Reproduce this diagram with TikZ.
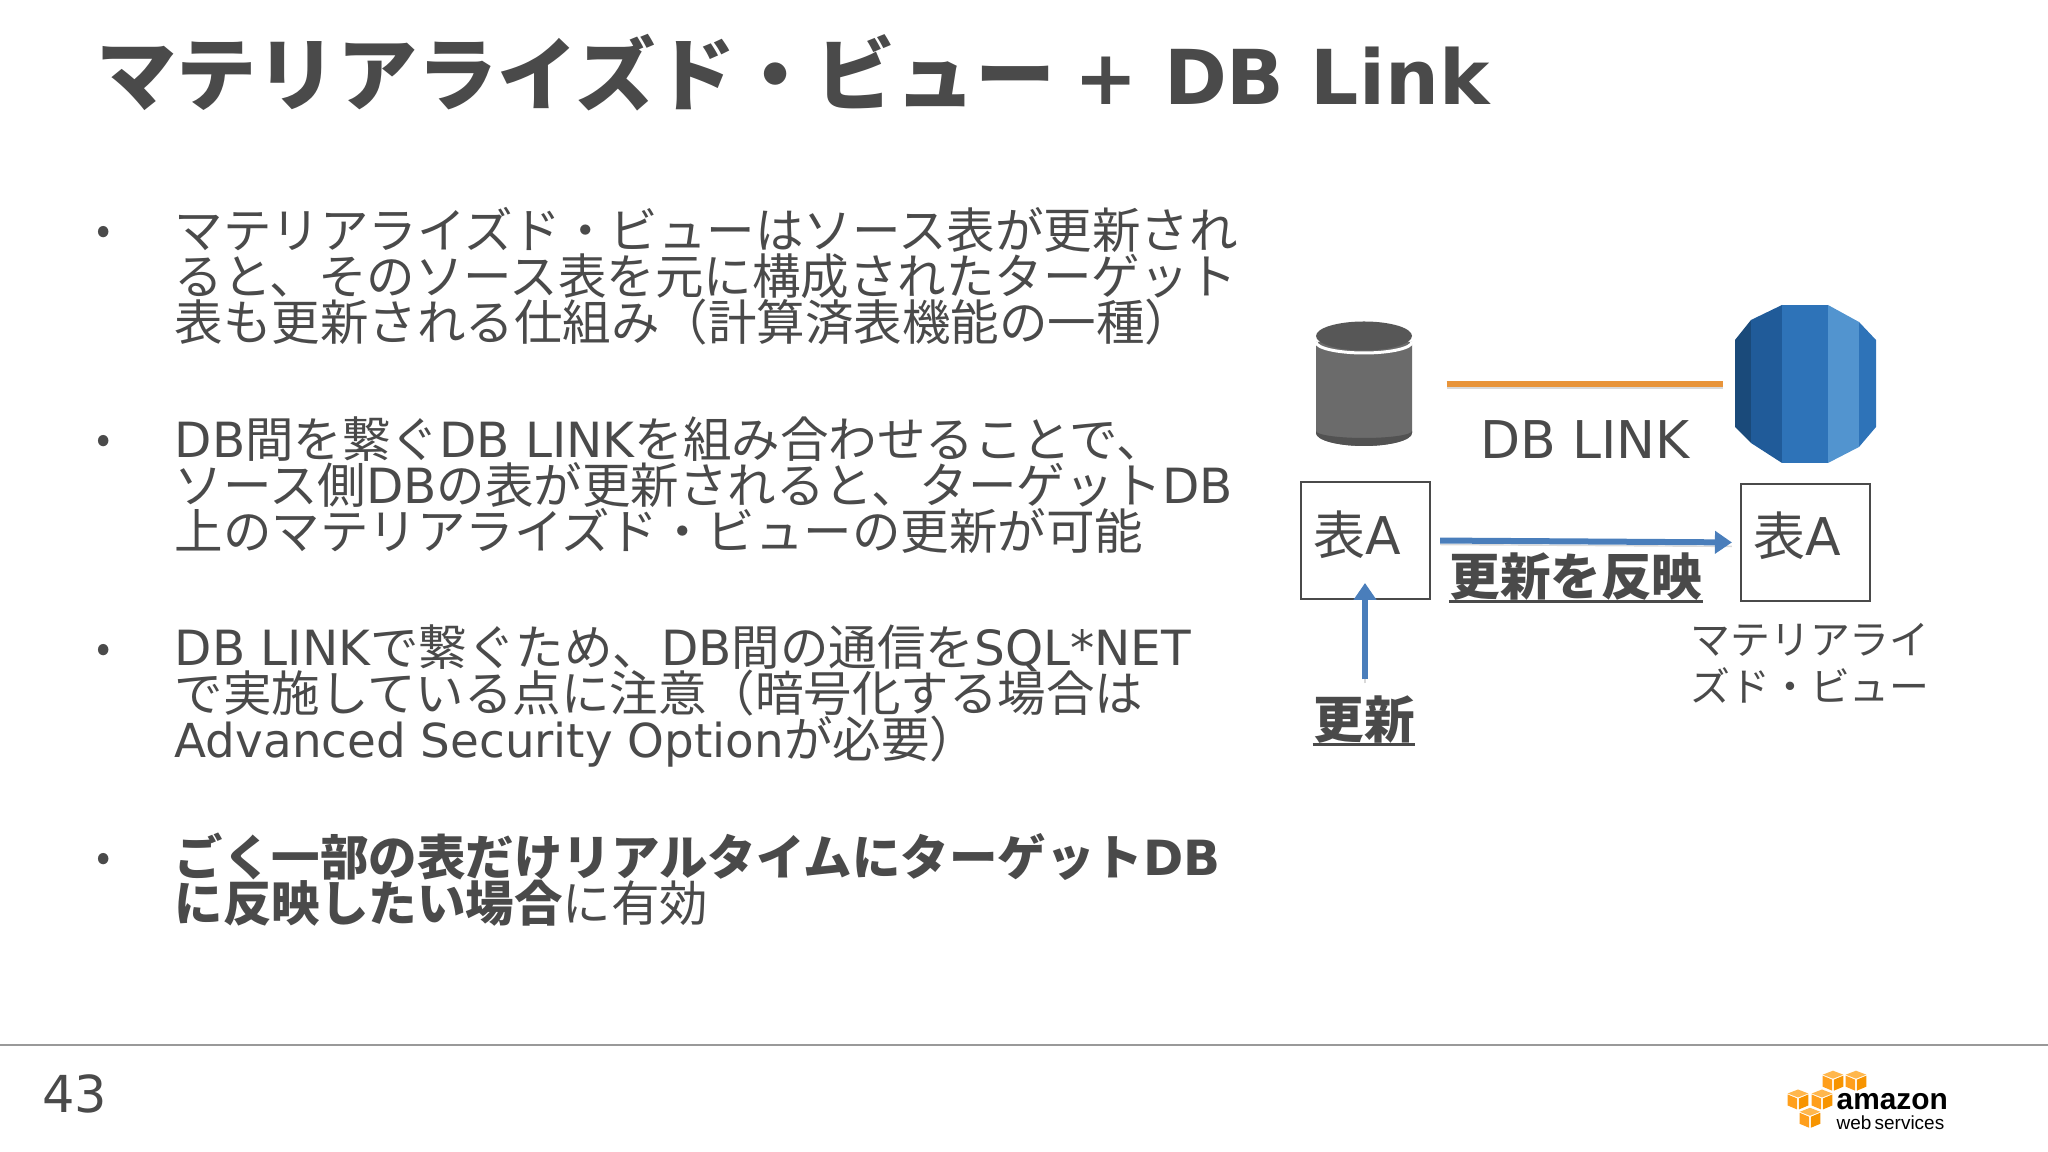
\documentclass[tikz,border=0pt]{standalone}
\usepackage{fontspec}
\usetikzlibrary{arrows.meta}
\setmainfont{Noto Sans CJK JP}
\newfontfamily\latfont{DejaVu Sans}
\newfontfamily\latnarrow{DejaVu Sans}[Scale=0.965]
\newfontfamily\logofont{Liberation Sans}
\newcommand{\ltn}[1]{{\latfont #1}}
\lineskiplimit=-100pt
\definecolor{slidetext}{HTML}{4A4A4A}
\definecolor{linkorange}{HTML}{E8943A}
\definecolor{flowblue}{HTML}{4A7EBB}
\definecolor{rdsdeep}{HTML}{1A4A7A}
\definecolor{rdsdark}{HTML}{205B99}
\definecolor{rdsmid}{HTML}{2E73B8}
\definecolor{rdslight}{HTML}{5294CF}
\definecolor{cubetop}{HTML}{FFB74D}
\definecolor{cubeleft}{HTML}{FF9F1C}
\definecolor{cuberight}{HTML}{F79400}
\tikzset{
    bodytext/.style={anchor=west, align=left, inner sep=0pt, text=slidetext, font=\fontsize{13.8}{13.1}\selectfont},
    dotmark/.style={inner sep=0pt, text=slidetext, font=\fontsize{12}{12}\selectfont},
    tablebox/.style={draw=slidetext, line width=0.6pt, minimum width=1.29cm, minimum height=1.17cm},
    tablename/.style={inner sep=0pt, text=slidetext, font=\fontsize{14.8}{14.8}\selectfont},
    boldnote/.style={inner sep=0pt, text=slidetext, font=\fontsize{14.4}{14.4}\selectfont\bfseries},
    noteline/.style={slidetext, line width=0.035cm},
    flowline/.style={flowblue, line width=0.06cm, -{Triangle[length=0.17cm,width=0.22cm]},
        preaction={draw=black!15, -, transform canvas={yshift=-0.04cm}}},
    linkline/.style={linkorange, line width=0.06cm,
        preaction={draw=black!15, transform canvas={yshift=-0.04cm}}},
}
\begin{document}
\begin{tikzpicture}
    \useasboundingbox (0,0) rectangle (20.48,11.52);

    % title
    \node[anchor=west, inner sep=0pt, text=slidetext, font=\fontsize{22.8}{24}\selectfont\bfseries] (title) at (0.96, 10.79)
        {マテリアライズド・ビュー {\fontspec{DejaVu Sans}[Scale=0.945]+ DB Link}};

    % bullets
    \foreach \by [count=\bi] in {9.17, 7.08, 4.99, 2.90}
        \node[dotmark] (dot\bi) at (1.04, \by) {•};

    \node[bodytext] (para1) at (1.74, 8.76) {マテリアライズド・ビューはソース表が更新され\\
        ると、そのソース表を元に構成されたターゲット\\
        表も更新される仕組み（計算済表機能の一種）};
    \node[bodytext] (para2) at (1.74, 6.67) {\ltn{DB}間を繋ぐ\ltn{DB LINK}を組み合わせることで、\\
        ソース側\ltn{DB}の表が更新されると、ターゲット\ltn{DB}\\
        上のマテリアライズド・ビューの更新が可能};
    \node[bodytext] (para3) at (1.74, 4.56) {\ltn{DB LINK}で繋ぐため、\ltn{DB}間の通信を\ltn{SQL*NET}\\
        で実施している点に注意（暗号化する場合は\\
        {\latnarrow Advanced Security Option}が必要）};
    \node[bodytext] (para4) at (1.74, 2.72) {\textbf{ごく一部の表だけリアルタイムにターゲット\ltn{DB}}\\
        \textbf{に反映したい場合}に有効};

    % source db
    \node[minimum width=0.96cm, minimum height=1.24cm, inner sep=0pt] (srcdb) at (13.64, 7.68) {};
    \fill[black!58] (13.16, 8.10) -- (13.16, 7.19) arc[start angle=180, end angle=360, x radius=0.48, y radius=0.13] -- (14.12, 8.10) -- cycle;
    \fill[black!68] (13.16, 7.21) arc[start angle=180, end angle=360, x radius=0.48, y radius=0.07]
        -- (14.12, 7.19) arc[start angle=360, end angle=180, x radius=0.48, y radius=0.13] -- cycle;
    \draw[white, line width=0.03cm] (13.16, 8.10) arc[start angle=180, end angle=360, x radius=0.48, y radius=0.11];
    \fill[black!66] (13.64, 8.16) ellipse (0.48cm and 0.145cm);

    % target db
    \node[minimum width=1.41cm, minimum height=1.58cm, inner sep=0pt] (rdsdb) at (18.055, 7.68) {};
    \fill[rdsdeep] (17.35, 8.12) -- (17.51, 8.32) -- (17.51, 7.09) -- (17.35, 7.25) -- cycle;
    \fill[rdsdark] (17.51, 8.32) -- (17.82, 8.47) -- (17.82, 6.89) -- (17.51, 7.09) -- cycle;
    \fill[rdsmid] (17.82, 8.47) -- (18.28, 8.47) -- (18.28, 6.89) -- (17.82, 6.89) -- cycle;
    \fill[rdslight] (18.28, 8.47) -- (18.59, 8.30) -- (18.59, 7.05) -- (18.28, 6.89) -- cycle;
    \fill[rdsmid] (18.59, 8.30) -- (18.76, 8.12) -- (18.76, 7.25) -- (18.59, 7.05) -- cycle;

    \draw[linkline, shorten <=0.34cm, shorten >=0.11cm] (srcdb.east) -- (rdsdb.west);
    \node[inner sep=0pt, text=slidetext, font=\fontsize{14.8}{14.8}\selectfont] (linkname) at (15.85, 7.12) {\ltn{DB LINK}};

    % tables
    \node[tablebox] (tableA) at (13.655, 6.115) {};
    \node[tablebox] (tableB) at (18.055, 6.095) {};
    \node[tablename] (nameA) at (13.57, 6.17) {表\ltn{A}};
    \node[tablename] (nameB) at (17.97, 6.16) {表\ltn{A}};

    \draw[flowline, shorten <=0.09cm, shorten >=0.08cm] (tableA.east) -- (tableB.west);
    \node[boldnote] (flownote) at (15.76, 5.75) {更新を反映};
    \draw[noteline] (flownote.south west) -- (flownote.south east);

    \node[boldnote] (updnote) at (13.64, 4.32) {更新};
    \draw[noteline] (updnote.south west) -- (updnote.south east);
    \coordinate (updtip) at (13.65, 5.69);
    \draw[flowline] (updnote.north -| updtip) ++(0, 0.16) -- (updtip);

    \node[inner sep=0pt, align=center, text=slidetext, font=\fontsize{11.35}{13.4}\selectfont] (mvname) at (18.10, 4.885) {マテリアライ\\ズド・ビュー};

    % footer
    \draw[black!40, line width=0.02cm] (0, 1.07) -- (20.48, 1.07);
    \node[inner sep=0pt, text=slidetext, font=\fontsize{14.5}{14.5}\selectfont\fontspec{DejaVu Sans}] (pagenum) at (0.75, 0.58) {43};

    % logo
    \foreach \cx/\cy in {18.33/0.713, 18.56/0.713, 17.98/0.525, 18.22/0.525, 18.10/0.342} {
        \fill[cubetop] (\cx, \cy+0.10) -- (\cx+0.103, \cy+0.06) -- (\cx, \cy+0.02) -- (\cx-0.103, \cy+0.06) -- cycle;
        \fill[cubeleft] (\cx-0.103, \cy+0.05) -- (\cx-0.008, \cy+0.01) -- (\cx-0.008, \cy-0.10) -- (\cx-0.103, \cy-0.06) -- cycle;
        \fill[cuberight] (\cx+0.103, \cy+0.05) -- (\cx+0.008, \cy+0.01) -- (\cx+0.008, \cy-0.10) -- (\cx+0.103, \cy-0.06) -- cycle;
    }
    \node[anchor=west, inner sep=0pt, font=\logofont\bfseries\fontsize{8.5}{8.5}\selectfont] (logoname) at (18.36, 0.50) {amazon};
    \node[anchor=west, inner sep=0pt, font=\logofont\fontsize{5.4}{5.4}\selectfont] (logosub) at (18.36, 0.29) {web\,services};
\end{tikzpicture}
\end{document}
